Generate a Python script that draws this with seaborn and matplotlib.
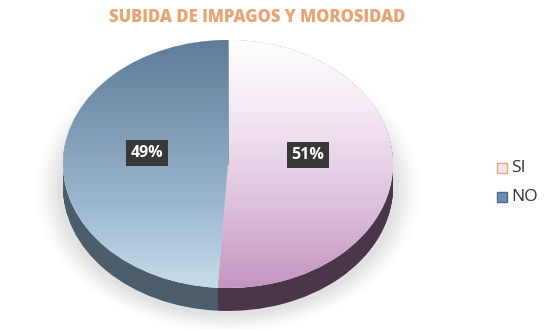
import numpy as np
import matplotlib
matplotlib.use("Agg")
import matplotlib.pyplot as plt
import seaborn as sns
from matplotlib.patches import Ellipse, Rectangle
from matplotlib.colors import LinearSegmentedColormap

sns.set_theme(style="white")
plt.rcParams['font.family'] = ['Open Sans', 'DejaVu Sans']

categories = ["SI", "NO"]
values = [51, 49]
labels = ["51%", "49%"]
title = "SUBIDA DE IMPAGOS Y MOROSIDAD"

top_cmaps = [
    LinearSegmentedColormap.from_list("si", ["#ffffff", "#f2e4f2", "#dcc0dc", "#c494c0"]),
    LinearSegmentedColormap.from_list("no", ["#5f7c9a", "#7c98b4", "#9cb8d0", "#c8dcea"]),
]
side_colors = ["#4a3648", "#4c5e6c"]
legend_face = ["#f4e6f0", "#6e8cab"]
legend_edge = ["#e8a878", "#4f6a88"]

W, H = 548, 330
fig = plt.figure(figsize=(W / 100, H / 100), dpi=100)
ax = fig.add_axes([0, 0, 1, 1])
cx, cy, rx, ry = 228, 164, 165, 124
ax.set_xlim(-cx / rx, (W - cx) / rx)
ax.set_ylim(-(H - cy) / ry, cy / ry)
ax.set_aspect("auto")
ax.axis("off")

depth = 0.185

# soft shadow
for i, a in enumerate(np.linspace(0.05, 0.01, 8)):
    s = 1.0 + 0.02 * (i + 1)
    ax.add_patch(Ellipse((0.0, -depth - 0.02), 2 * s * 1.01, 2 * s, color="#888888",
                         alpha=a, lw=0, zorder=0))

# side (extrusion)
for k, dy in enumerate(np.linspace(-depth, 0, 40)):
    ax.pie(values, startangle=90, counterclock=False, center=(0, dy), radius=1.0,
           colors=side_colors, wedgeprops=dict(linewidth=0), frame=True)
ax.set_xlim(-cx / rx, (W - cx) / rx)
ax.set_ylim(-(H - cy) / ry, cy / ry)
ax.axis("off")

# top face with gradients
wedges, _ = ax.pie(values, startangle=90, counterclock=False, center=(0, 0), radius=1.0,
                   colors=["white", "white"], wedgeprops=dict(linewidth=0), frame=True)
grad = np.linspace(0, 1, 256).reshape(-1, 1)
for w, cm in zip(wedges, top_cmaps):
    im = ax.imshow(grad, cmap=cm, extent=(-1, 1, -1, 1), origin="upper",
                   aspect="auto", zorder=3)
    im.set_clip_path(w)
ax.plot([0, 0], [0, 1], color="#7890a8", lw=0.6, zorder=4)
ax.set_xlim(-cx / rx, (W - cx) / rx)
ax.set_ylim(-(H - cy) / ry, cy / ry)
ax.axis("off")

# data labels
label_pos = [((308 - cx) / rx, (cy - 155) / ry), ((147 - cx) / rx, (cy - 153) / ry)]
for (x, y), t in zip(label_pos, labels):
    ax.text(x, y, t, ha="center", va="center", color="white", fontsize=11.5,
            fontweight="bold", zorder=6,
            bbox=dict(boxstyle="square,pad=0.3", fc="#383838", ec="none"))

fig.text(257 / W, 1 - 17 / H, title, ha="center", va="center", fontsize=12,
         fontweight="heavy", color="#e8a474")

# legend
for i, (c, fc, ec) in enumerate(zip(categories, legend_face, legend_edge)):
    yy = [168, 197][i]
    fig.patches.append(Rectangle(((497) / W, 1 - (yy + 5) / H), 10 / W, 10 / H,
                                 transform=fig.transFigure, fc=fc, ec=ec, lw=1))
    fig.text(511 / W, 1 - yy / H, c, ha="left", va="center", fontsize=12.5,
             color="#333333")

fig.savefig("out.png", dpi=100, facecolor="white")
